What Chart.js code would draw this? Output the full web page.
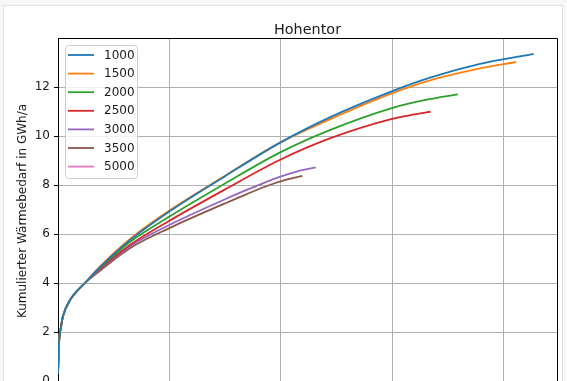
<!DOCTYPE html>
<html>
<head>
<meta charset="utf-8">
<script src="https://cdn.jsdelivr.net/npm/chart.js@4.4.1/dist/chart.umd.min.js"></script>
<style>
  html, body { margin: 0; padding: 0; background: #f7f7f7; }
  #wrap { position: relative; width: 567px; height: 381px; overflow: hidden; }
  #frame { position: absolute; left: 3px; top: 5px; width: 558px; height: 400px; background: #fff; border: 1px solid #e2e2e2; }
  #chart { position: absolute; left: 0; top: 0; }
</style>
</head>
<body>
<div id="wrap">
  <div id="frame"></div>
  <canvas id="chart" width="567" height="430"></canvas>
</div>
<script>
  const chartTitle = 'Hohentor';
  const yLabel = 'Kumulierter Wärmebedarf in GWh/a';
  const seriesNames = ['1000', '1500', '2000', '2500', '3000', '3500', '5000'];
  const seriesColors = ['#1f77b4', '#ff7f0e', '#2ca02c', '#d62728', '#9467bd', '#8c564b', '#e377c2'];

  // x values of each curve, y values
  const x1000 = [0, 0.9, 2.7, 4.5, 10.8, 24.2, 37.7, 64.6, 100, 150, 199, 244, 299, 334, 378, 427];
  const y1000 = [0.3, 1.55, 2.2, 2.65, 3.3, 4.0, 4.65, 5.75, 6.92, 8.36, 9.72, 10.76, 11.81, 12.38, 12.93, 13.35];
  const x1500 = [0, 0.9, 2.7, 4.5, 10.8, 24.2, 37.7, 64.6, 100, 150, 199, 244, 299, 334, 378, 411];
  const y1500 = [0.3, 1.55, 2.2, 2.65, 3.3, 4.0, 4.68, 5.8, 6.96, 8.38, 9.72, 10.68, 11.73, 12.27, 12.75, 13.02];
  const x2000 = [0, 0.9, 2.7, 4.5, 10.8, 24.2, 37.7, 64.6, 100, 150, 199, 244, 299, 330, 359];
  const y2000 = [0.3, 1.55, 2.2, 2.65, 3.3, 4.0, 4.62, 5.67, 6.71, 8.06, 9.32, 10.24, 11.13, 11.47, 11.7];
  const x2500 = [0, 0.9, 2.7, 4.5, 10.8, 24.2, 37.7, 64.6, 100, 150, 199, 244, 299, 320, 334.5];
  const y2500 = [0.3, 1.55, 2.2, 2.65, 3.3, 4.0, 4.58, 5.55, 6.54, 7.82, 9.02, 9.9, 10.69, 10.88, 10.99];
  const x3000 = [0, 0.9, 2.7, 4.5, 10.8, 24.2, 37.7, 64.6, 100, 150, 175, 199, 215, 231.4];
  const y3000 = [0.3, 1.55, 2.2, 2.65, 3.3, 4.0, 4.55, 5.5, 6.37, 7.42, 7.9, 8.33, 8.56, 8.72];
  const x3500 = [0, 0.9, 2.7, 4.5, 10.8, 24.2, 37.7, 64.6, 100, 150, 170, 190, 205, 219.5];
  const y3500 = [0.3, 1.55, 2.2, 2.65, 3.3, 4.0, 4.5, 5.42, 6.24, 7.25, 7.64, 8.0, 8.22, 8.37];
  const x5000 = [];
  const y5000 = [];

  const xTicks = [0, 100, 200, 300, 400];
  const yTicks = [0, 2, 4, 6, 8, 10, 12];

  const xs = [x1000, x1500, x2000, x2500, x3000, x3500, x5000];
  const ys = [y1000, y1500, y2000, y2500, y3000, y3500, y5000];

  const datasets = seriesNames.map((name, i) => ({
    label: name,
    data: xs[i].map((x, j) => ({ x: x, y: ys[i][j] })),
    borderColor: seriesColors[i],
    backgroundColor: seriesColors[i],
    borderWidth: 1.8,
    pointRadius: 0,
    fill: false,
    cubicInterpolationMode: 'monotone'
  }));

  const FONT = '"DejaVu Sans", sans-serif';

  // title, y label, top/right spines and the boxed legend, drawn like matplotlib
  const decor = {
    id: 'decor',
    afterDraw(chart) {
      const ctx = chart.ctx;
      const a = chart.chartArea;
      ctx.save();
      ctx.strokeStyle = '#000';
      ctx.lineWidth = 1;
      ctx.beginPath();
      ctx.moveTo(a.left, a.top + 0.5);
      ctx.lineTo(a.right + 0.5, a.top + 0.5);
      ctx.lineTo(a.right + 0.5, a.bottom);
      ctx.stroke();

      ctx.fillStyle = '#1a1a1a';
      ctx.font = '14.4px ' + FONT;
      ctx.textAlign = 'center';
      ctx.textBaseline = 'alphabetic';
      ctx.fillText(chartTitle, (a.left + a.right) / 2, 33.5);

      ctx.font = '12px ' + FONT;
      ctx.translate(22.5, 211);
      ctx.rotate(-Math.PI / 2);
      ctx.textBaseline = 'middle';
      ctx.fillText(yLabel, 0, 0);
      ctx.restore();

      // legend
      ctx.save();
      const bx = 65, by = 45, bw = 72, bh = 133, r = 3;
      ctx.fillStyle = 'rgba(255,255,255,0.8)';
      ctx.strokeStyle = '#cccccc';
      ctx.lineWidth = 1;
      ctx.beginPath();
      ctx.roundRect(bx + 0.5, by + 0.5, bw, bh, r);
      ctx.fill();
      ctx.stroke();
      ctx.font = '12px ' + FONT;
      ctx.textAlign = 'left';
      ctx.textBaseline = 'middle';
      chart.data.datasets.forEach((ds, i) => {
        const yy = 55 + i * 18.6;
        ctx.strokeStyle = ds.borderColor;
        ctx.lineWidth = 1.8;
        ctx.beginPath();
        ctx.moveTo(68, yy);
        ctx.lineTo(94, yy);
        ctx.stroke();
        ctx.fillStyle = '#1a1a1a';
        ctx.fillText(ds.label, 104, yy + 0.5);
      });
      ctx.restore();
    }
  };

  new Chart(document.getElementById('chart'), {
    type: 'line',
    data: { datasets: datasets },
    options: {
      responsive: false,
      animation: false,
      layout: { padding: { left: 0, top: 38, right: 10, bottom: 0 } },
      plugins: { legend: { display: false }, title: { display: false }, tooltip: { enabled: false } },
      scales: {
        x: {
          type: 'linear',
          min: 0,
          max: 448,
          afterFit: (s) => { s.height = 49; },
          afterBuildTicks: (s) => { s.ticks = xTicks.map(v => ({ value: v })); },
          ticks: { display: false },
          grid: { color: '#b0b0b0', lineWidth: 1, tickColor: '#000', tickLength: 4 },
          border: { color: '#000', width: 1 }
        },
        y: {
          type: 'linear',
          min: 0,
          max: 14,
          afterFit: (s) => { s.width = 58; },
          afterBuildTicks: (s) => { s.ticks = yTicks.map(v => ({ value: v })); },
          ticks: { color: '#1a1a1a', padding: 4, font: { family: FONT, size: 12 } },
          grid: { color: '#b0b0b0', lineWidth: 1, tickColor: '#000', tickLength: 4 },
          border: { color: '#000', width: 1 }
        }
      }
    },
    plugins: [decor]
  });
</script>
</body>
</html>
